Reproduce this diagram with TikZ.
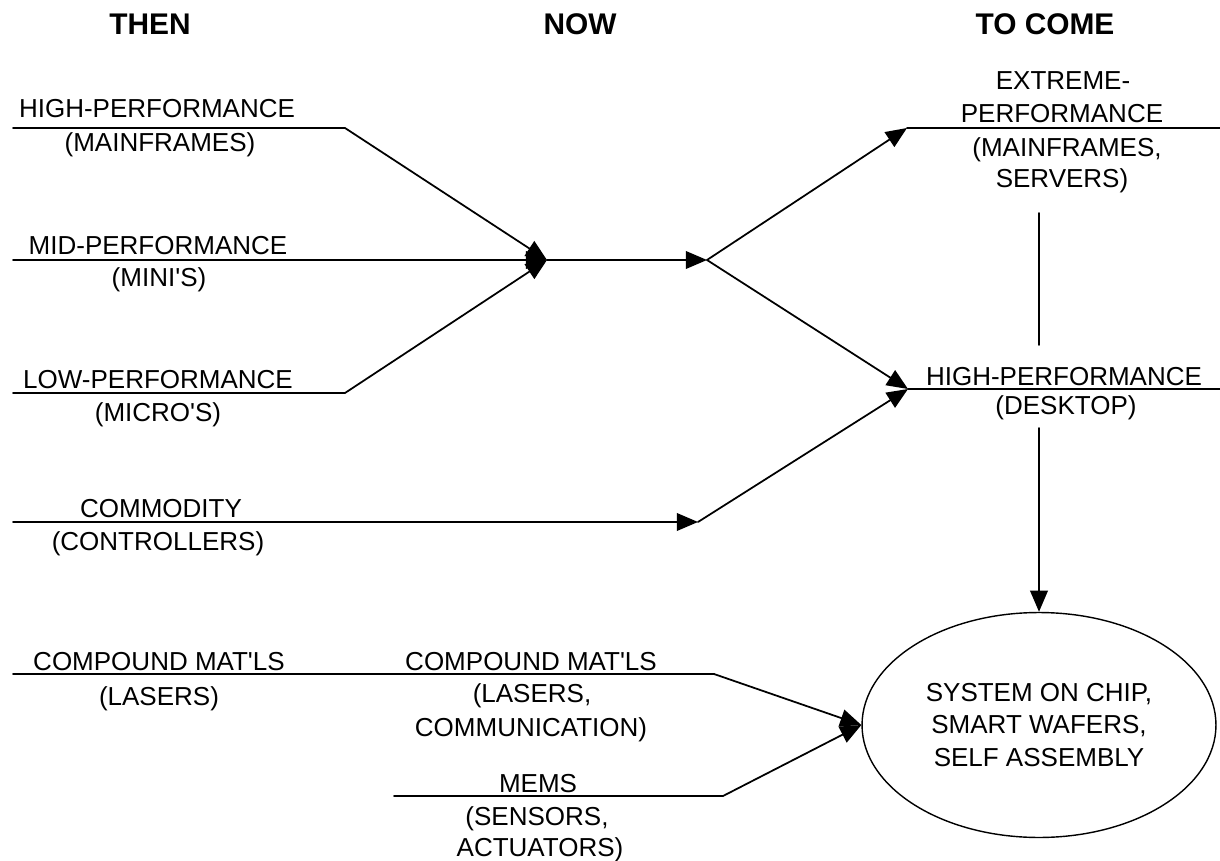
\documentclass[tikz,border=0pt]{standalone}
\usepackage{fontspec}
\setmainfont{Liberation Sans}
\usetikzlibrary{arrows.meta,shapes.geometric}
\newcommand\apo{\textquotesingle}

\begin{document}
\begin{tikzpicture}[x=0.02cm,y=-0.02cm,line cap=round,line join=round,
    font=\fontsize{14.8}{18.5}\selectfont,
    lbl/.style={inner sep=0pt,anchor=base},
    head/.style={inner sep=0pt,anchor=base,font=\fontsize{17}{20}\selectfont\bfseries},
    bar/.style={line width=1pt},
    flow/.style={line width=1pt,-{Triangle[length=12pt,width=10pt]}}]
  \useasboundingbox (0,0) rectangle (1220,861);
  % then
  \coordinate (hpA) at (13,128);
  \coordinate (hpB) at (345,128);
  \coordinate (mpA) at (13,260);
  \coordinate (mpB) at (345,260);
  \coordinate (lpA) at (13,393);
  \coordinate (lpB) at (345,393);
  \coordinate (coA) at (13,522);
  \coordinate (coB) at (345,522);
  \coordinate (cmA) at (13,674);
  \coordinate (cmB) at (345,674);
  % now
  \coordinate (mrg) at (547,260);
  \coordinate (spl) at (707,260);
  \coordinate (coN) at (698,522);
  \coordinate (cmN) at (714,674);
  \coordinate (meA) at (394,796);
  \coordinate (meB) at (723,796);
  % to come
  \coordinate (epA) at (907,128);
  \coordinate (epB) at (1220,128);
  \coordinate (hdA) at (908,389);
  \coordinate (hdB) at (1220,389);
  \coordinate (vtA) at (1039,213);
  \coordinate (vtB) at (1039,345);
  \coordinate (vdA) at (1039,428);
  \node[draw,ellipse,line width=0.8pt,minimum width=7.08cm,minimum height=4.5cm,align=center] (soc) at (1039,725)
    {SYSTEM ON CHIP,\\SMART WAFERS,\\SELF ASSEMBLY};

  \draw[bar] (hpA) -- (hpB);
  \draw[bar] (mpA) -- (mpB);
  \draw[bar] (lpA) -- (lpB);
  \draw[bar] (coA) -- (coB);
  \draw[bar] (cmA) -- (cmB) -- (cmN);
  \draw[bar] (meA) -- (meB);
  \draw[bar] (epA) -- (epB);
  \draw[bar] (hdA) -- (hdB);
  \draw[bar] (vtA) -- (vtB);

  \draw[flow] (hpB) -- (mrg);
  \draw[flow] (mpB) -- (mrg);
  \draw[flow] (lpB) -- (mrg);
  \draw[flow] (mrg) -- (spl);
  \draw[flow] (spl) -- (epA);
  \draw[flow] (spl) -- (hdA);
  \draw[flow] (coB) -- (coN);
  \draw[flow] (coN) -- (hdA);
  \draw[flow] (cmN) -- (soc.west);
  \draw[flow] (meB) -- (soc.west);
  \draw[flow] (vdA) -- (soc.north);

  \node[head] (then) at (150,35) {THEN};
  \node[head] (now) at (580,35) {NOW};
  \node[head] (come) at (1045,35) {TO COME};

  \node[lbl] (hpT) at (157,118) {HIGH-PERFORMANCE};
  \node[lbl] (hpU) at (160,152) {(MAINFRAMES)};
  \node[lbl] (mpT) at (158,255) {MID-PERFORMANCE};
  \node[lbl] (mpU) at (159,287) {(MINI\apo S)};
  \node[lbl] (lpT) at (158,388) {LOW-PERFORMANCE};
  \node[lbl] (lpU) at (158,421) {(MICRO\apo S)};
  \node[lbl] (coT) at (161,517) {COMMODITY};
  \node[lbl] (coU) at (158,550) {(CONTROLLERS)};
  \node[lbl] (cmT) at (159,670) {COMPOUND MAT\apo LS};
  \node[lbl] (cmU) at (159,705) {(LASERS)};

  \node[lbl] (cnT) at (531,670) {COMPOUND MAT\apo LS};
  \node[lbl] (cnU) at (532,702) {(LASERS,};
  \node[lbl] (cnV) at (531,736) {COMMUNICATION)};
  \node[lbl] (meT) at (538,792) {MEMS};
  \node[lbl] (meU) at (537,825) {(SENSORS,};
  \node[lbl] (meV) at (540,856) {ACTUATORS)};

  \node[lbl] (epT) at (1063,90) {EXTREME-};
  \node[lbl] (epU) at (1062,123) {PERFORMANCE};
  \node[lbl] (epV) at (1067,157) {(MAINFRAMES,};
  \node[lbl] (epW) at (1062,188) {SERVERS)};
  \node[lbl] (hdT) at (1064,385) {HIGH-PERFORMANCE};
  \node[lbl] (hdU) at (1066,414) {(DESKTOP)};
\end{tikzpicture}
\end{document}
